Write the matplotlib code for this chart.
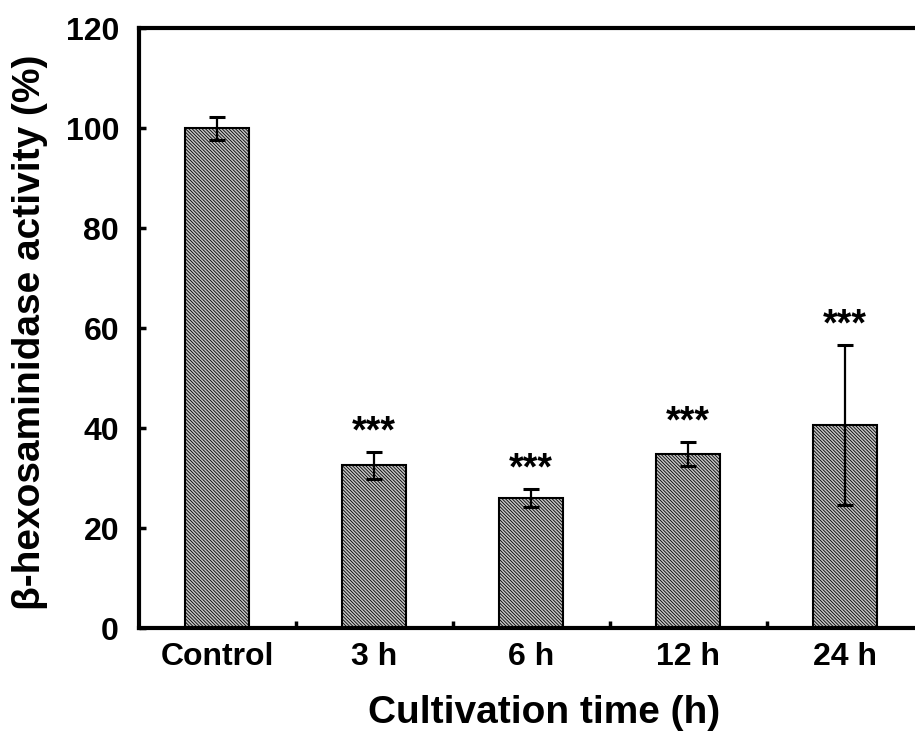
import matplotlib
matplotlib.use("Agg")
import matplotlib.pyplot as plt
import numpy as np

categories = ["Control", "3 h", "6 h", "12 h", "24 h"]
values = [100.0, 32.6, 26.1, 34.8, 40.6]
errors = [2.3, 2.7, 1.8, 2.4, 16.0]
stars = ["", "***", "***", "***", "***"]
yticks = [0, 20, 40, 60, 80, 100, 120]

plt.rcParams['font.family'] = ['Liberation Sans', 'DejaVu Sans']
plt.rcParams['font.weight'] = 'bold'
plt.rcParams['hatch.linewidth'] = 0.6
plt.rcParams['hatch.color'] = '#404040'

fig = plt.figure(figsize=(9.15, 7.40), dpi=100)
ax = fig.add_axes([138.5/915, 112/740, 785/915, 600/740])

x = np.arange(len(categories))
ax.bar(x, values, width=0.41, color='#c4c4c4', edgecolor='black',
       linewidth=1.5, hatch='\\\\\\\\\\\\\\\\\\\\', zorder=2)
ax.errorbar(x, values, yerr=errors, fmt='none', ecolor='black',
            elinewidth=1.6, capsize=6, capthick=2.2, zorder=3)

for xi, v, e, s in zip(x, values, errors, stars):
    if s:
        ax.text(xi, v + e + 0.3, s, ha='center', va='bottom',
                fontsize=27, fontweight='bold')

ax.set_xlim(-0.5, len(categories) - 0.5)
ax.set_ylim(0, 120)
ax.set_yticks(yticks)
ax.set_yticklabels([str(t) for t in yticks], fontsize=23, fontweight='bold')
ax.set_xticks(x)
ax.set_xticklabels(categories, fontsize=23, fontweight='bold')
ax.tick_params(axis='x', which='major', length=0, pad=10)
ax.set_xticks(x[:-1] + 0.5, minor=True)
ax.tick_params(axis='x', which='minor', direction='in', length=5, width=2.5)
ax.tick_params(axis='y', direction='in', length=5, width=2.5, pad=14)

for side in ['left', 'top', 'bottom']:
    ax.spines[side].set_linewidth(3)
ax.spines['right'].set_visible(False)

fig.text(544/915, 1 - 713/740, "Cultivation time (h)", ha='center', va='center',
         fontsize=28, fontweight='bold')
fig.text(30/915, 1 - 332/740, "β-hexosaminidase activity (%)", ha='center', va='center',
         rotation=90, fontsize=28, fontweight='bold')

fig.savefig("out.png", dpi=100)
